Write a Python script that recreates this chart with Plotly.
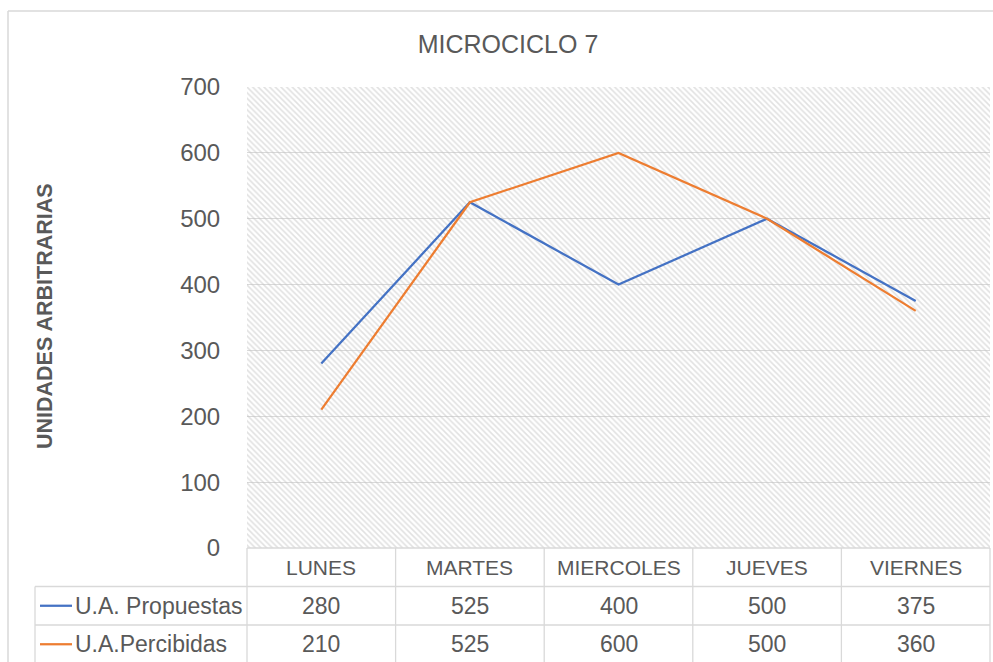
import plotly.graph_objects as go

# ---------------- data ----------------
days = ["LUNES", "MARTES", "MIERCOLES", "JUEVES", "VIERNES"]
propuestas = [280, 525, 400, 500, 375]
percibidas = [210, 525, 600, 500, 360]
series_names = ["U.A. Propuestas", "U.A.Percibidas"]
series_values = [propuestas, percibidas]
series_colors = ["#4472C4", "#ED7D31"]
y_ticks = [0, 100, 200, 300, 400, 500, 600, 700]
title_text = "MICROCICLO 7"
y_title = "UNIDADES ARBITRARIAS"

# ---------------- layout geometry ----------------
W, H = 993, 662
L, R, T, B = 247, 3, 87, 114
PW = W - L - R
PH = H - T - B
ROW = 38.5
TXT = "#595959"
GRID = "#d9d9d9"
FONT = "Liberation Sans"


def pxx(px):
    return (px - L) / PW


def pxy(py):
    return (H - B - py) / PH


n = len(days)
xs = list(range(n))
x_rng = [-0.5, n - 0.5]
y_rng = [y_ticks[0], y_ticks[-1]]

fig = go.Figure()

# hatched plot-area background
fig.add_trace(go.Scatter(
    x=[x_rng[0], x_rng[1], x_rng[1], x_rng[0], x_rng[0]],
    y=[y_rng[0], y_rng[0], y_rng[1], y_rng[1], y_rng[0]],
    mode="lines", line=dict(width=0), fill="toself",
    fillcolor="rgba(0,0,0,0)",
    fillpattern=dict(shape="\\", fgcolor="#c4c4c4", bgcolor="rgba(0,0,0,0)",
                     size=4, solidity=0.4),
    hoverinfo="skip", showlegend=False,
))

for name, vals, col in zip(series_names, series_values, series_colors):
    fig.add_trace(go.Scatter(x=xs, y=vals, mode="lines", name=name,
                             line=dict(color=col, width=2.25), showlegend=False))

shapes = []
annotations = []
line_style = dict(color=GRID, width=1.3)

# table grid
y_rows = [548 + ROW * k for k in range(4)]
shapes.append(dict(type="line", xref="paper", yref="paper",
                   x0=0, x1=1, y0=pxy(y_rows[0]), y1=pxy(y_rows[0]), line=line_style))
for k in (1, 2):
    shapes.append(dict(type="line", xref="paper", yref="paper",
                       x0=pxx(35), x1=1, y0=pxy(y_rows[k]), y1=pxy(y_rows[k]), line=line_style))
for i in range(n + 1):
    xp = i / n
    shapes.append(dict(type="line", xref="paper", yref="paper",
                       x0=xp, x1=xp, y0=pxy(548), y1=pxy(H + 2), line=line_style))
shapes.append(dict(type="line", xref="paper", yref="paper",
                   x0=pxx(35), x1=pxx(35), y0=pxy(y_rows[1]), y1=pxy(H + 2), line=line_style))

# chart border
shapes.append(dict(type="line", xref="paper", yref="paper",
                   x0=pxx(8), x1=pxx(8), y0=pxy(11), y1=pxy(H + 2), line=dict(color=GRID, width=1.5)))
shapes.append(dict(type="line", xref="paper", yref="paper",
                   x0=pxx(8), x1=pxx(W + 2), y0=pxy(11), y1=pxy(11), line=dict(color=GRID, width=1.5)))

# header row
for i, d in enumerate(days):
    annotations.append(dict(x=i, xref="x", y=pxy(y_rows[0] + ROW / 2), yref="paper",
                            text=d, showarrow=False, xanchor="center", yanchor="middle",
                            font=dict(family=FONT, size=21, color=TXT)))

# data rows
for k, (name, vals, col) in enumerate(zip(series_names, series_values, series_colors)):
    yc = y_rows[k + 1] + ROW / 2
    shapes.append(dict(type="line", xref="paper", yref="paper",
                       x0=pxx(40), x1=pxx(72), y0=pxy(yc), y1=pxy(yc),
                       line=dict(color=col, width=2.25)))
    annotations.append(dict(x=pxx(73), xref="paper", y=pxy(yc), yref="paper",
                            text=name, showarrow=False, xanchor="left", yanchor="middle",
                            font=dict(family=FONT, size=23, color=TXT)))
    for i, v in enumerate(vals):
        annotations.append(dict(x=i, xref="x", y=pxy(yc), yref="paper",
                                text=str(v), showarrow=False, xanchor="center", yanchor="middle",
                                font=dict(family=FONT, size=23, color=TXT)))

# y-axis title
annotations.append(dict(x=pxx(45), xref="paper", y=pxy(316), yref="paper",
                        text="<b>" + y_title + "</b>", textangle=-90, showarrow=False,
                        xanchor="center", yanchor="middle",
                        font=dict(family=FONT, size=21.5, color=TXT)))

fig.update_layout(
    width=W, height=H,
    margin=dict(l=L, r=R, t=T, b=B),
    paper_bgcolor="white", plot_bgcolor="white",
    title=dict(text=title_text, x=pxx(508), xref="paper", xanchor="center",
               y=1 - 44 / H, yref="container", yanchor="middle",
               font=dict(family=FONT, size=25, color=TXT)),
    xaxis=dict(range=x_rng, showticklabels=False, showgrid=False, zeroline=False,
               showline=False, ticks=""),
    yaxis=dict(range=y_rng, tickvals=y_ticks, showgrid=True, gridcolor=GRID, gridwidth=1,
               zeroline=False, showline=False, ticks="outside", ticklen=21,
               tickcolor="rgba(0,0,0,0)",
               tickfont=dict(family=FONT, size=24, color=TXT)),
    shapes=shapes, annotations=annotations,
    showlegend=False,
)

fig.write_html("out.html",
               config={"displayModeBar": False},
               post_script="document.body.style.margin='0px';document.body.style.overflow='hidden';")
